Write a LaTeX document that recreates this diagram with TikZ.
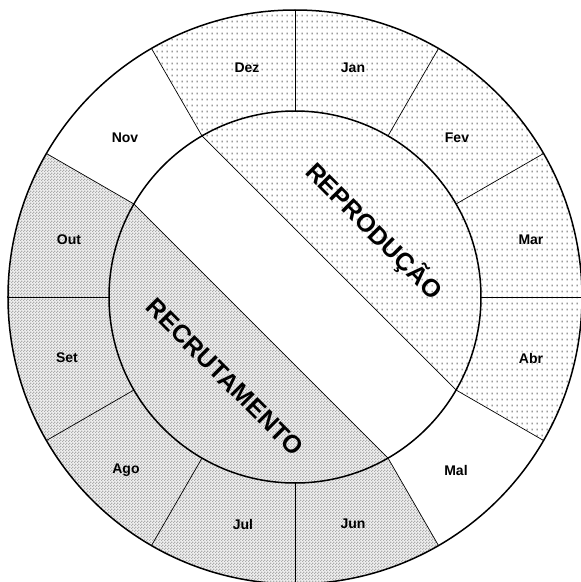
\documentclass[tikz,border=0pt]{standalone}
\usepackage{fontspec}
\setmainfont{Liberation Sans}
\usetikzlibrary{patterns}

% light dots for the reproduction months, close dots for recruitment
\pgfdeclarepatternformonly{sparse dots}{\pgfqpoint{0pt}{0pt}}{\pgfqpoint{5pt}{6pt}}{\pgfqpoint{5pt}{6pt}}{%
  \pgfpathrectangle{\pgfqpoint{2pt}{2pt}}{\pgfqpoint{1pt}{1.8pt}}\pgfusepath{fill}}
\pgfdeclarepatternformonly{dense dots}{\pgfqpoint{0pt}{0pt}}{\pgfqpoint{3pt}{3pt}}{\pgfqpoint{3pt}{3pt}}{%
  \pgfpathrectangle{\pgfqpoint{0pt}{0pt}}{\pgfqpoint{1.5pt}{1.5pt}}%
  \pgfpathrectangle{\pgfqpoint{1.5pt}{1.5pt}}{\pgfqpoint{1.5pt}{1.5pt}}\pgfusepath{fill}}

\begin{document}
\begin{tikzpicture}[x=1pt, y=1pt,
    month/.style={font=\fontsize{14}{16}\selectfont\bfseries},
    phase/.style={font=\fontsize{25}{28}\selectfont\bfseries, rotate=-45},
    ring/.style={line width=1.5pt},
    spoke/.style={line width=0.7pt}]
        \useasboundingbox (-295,-285) rectangle (286,297);

        % Reproduction: Dez to Abr and the inner segment
        \fill[pattern=sparse dots, pattern color=black!60]
            (-30:287) arc[start angle=-30, end angle=120, radius=287pt]
            -- (120:186) -- (-30:186) -- cycle;

        % Recruitment: Out to Jun and the inner segment
        \fill[gray!12]
            (150:287) arc[start angle=150, end angle=300, radius=287pt]
            -- (300:186) -- (150:186) -- cycle;
        \fill[pattern=dense dots, pattern color=gray!65]
            (150:287) arc[start angle=150, end angle=300, radius=287pt]
            -- (300:186) -- (150:186) -- cycle;

        % Rings and month spokes
        \draw[ring] (0,0) circle[radius=287pt];
        \draw[ring] (0,0) circle[radius=186pt];
        \foreach \a in {0,30,...,330} {
            \draw[spoke] (\a:186) -- (\a:287);
        }

        % White band
        \coordinate (band-a) at (120:186);
        \coordinate (band-b) at (-30:186);
        \coordinate (band-c) at (150:186);
        \coordinate (band-d) at (300:186);
        \draw[spoke] (band-a) -- (band-b);
        \draw[spoke] (band-c) -- (band-d);

        % Months
        \foreach \m/\pos in {Dez/{-48,229}, Jan/{58,229}, Fev/{162,159}, Mar/{236,57},
                             Abr/{236,-61}, Mal/{161,-173}, Jun/{58,-227}, Jul/{-52,-227},
                             Ago/{-169,-173}, Set/{-228,-61}, Out/{-226,57}, Nov/{-170,159}} {
            \node[month] (m-\m) at (\pos) {\m};
        }

        % Phases
        \node[phase] (repro) at (79,66) {REPRODUÇÃO};
        \node[phase] (recru) at (-70,-80) {RECRUTAMENTO};
    \end{tikzpicture}
\end{document}
